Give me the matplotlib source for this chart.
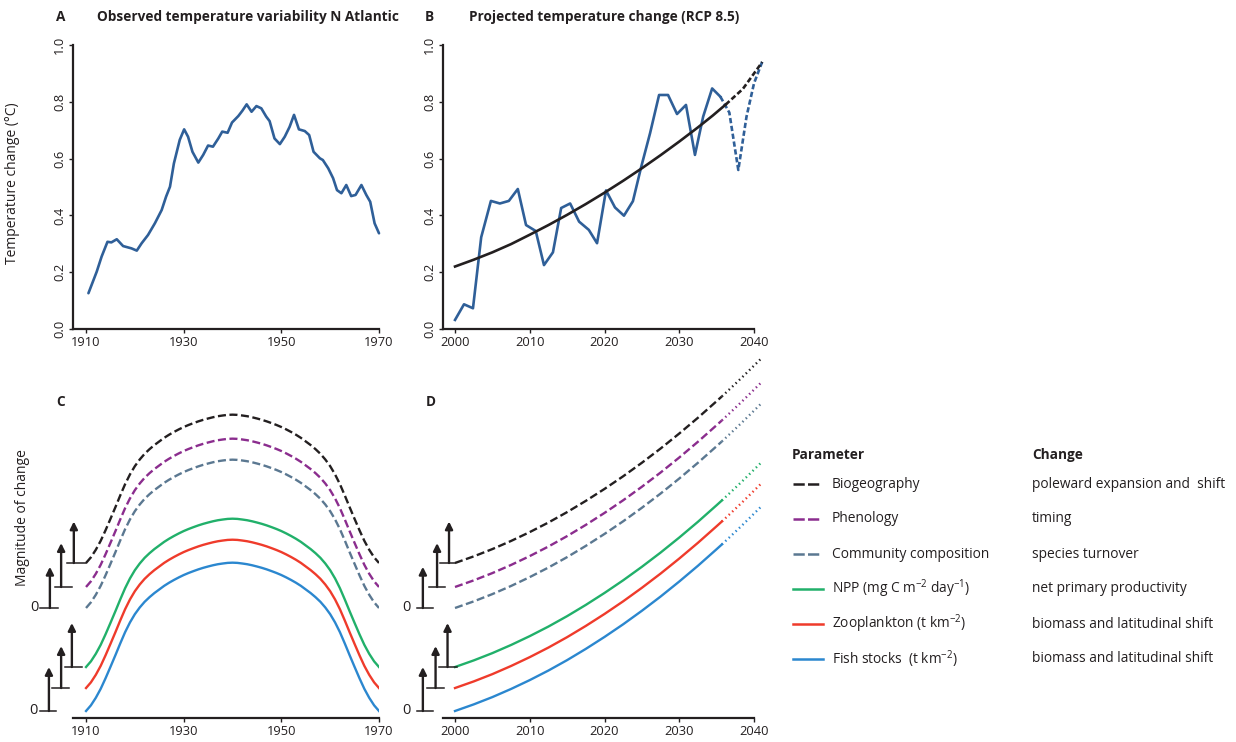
import matplotlib.pyplot as plt
from matplotlib.lines import Line2D

plt.rcParams['font.family'] = ['Open Sans', 'DejaVu Sans']
plt.rcParams['mathtext.fontset'] = 'custom'
plt.rcParams['mathtext.rm'] = 'Open Sans'

INK = '#231f20'
TBLUE = '#2f5f98'

# panel A: observed temperature variability
obs_years = [1910.5, 1912.2, 1913.2, 1914.4, 1915.2, 1916.3, 1917.6, 1919.3, 1920.4, 1921.4,
             1922.7, 1924.1, 1925.5, 1926.4, 1927.2, 1928.0, 1929.2, 1930.1, 1930.9, 1931.8,
             1933.0, 1934.0, 1935.0, 1936.0, 1937.1, 1937.9, 1939.0, 1939.9, 1941.2, 1942.0,
             1942.9, 1943.9, 1944.9, 1945.9, 1946.9, 1947.6, 1948.6, 1949.7, 1950.7, 1951.7,
             1952.6, 1953.6, 1954.8, 1955.7, 1956.6, 1957.9, 1958.5, 1959.6, 1960.6, 1961.4,
             1962.3, 1963.3, 1964.3, 1965.2, 1966.4, 1967.4, 1968.2, 1969.1, 1970.0]
obs_temp = [0.126, 0.202, 0.255, 0.307, 0.305, 0.316, 0.292, 0.284, 0.276, 0.302,
            0.331, 0.372, 0.419, 0.466, 0.501, 0.583, 0.666, 0.703, 0.677, 0.624,
            0.586, 0.613, 0.646, 0.642, 0.671, 0.695, 0.691, 0.727, 0.750, 0.768,
            0.791, 0.765, 0.785, 0.777, 0.748, 0.732, 0.671, 0.651, 0.677, 0.712,
            0.754, 0.703, 0.697, 0.683, 0.624, 0.601, 0.595, 0.566, 0.531, 0.489,
            0.478, 0.507, 0.468, 0.472, 0.507, 0.472, 0.448, 0.372, 0.337]

# panel B: projected temperature (RCP 8.5)
proj_years = [2000.0, 2001.2, 2002.4, 2003.5, 2004.8, 2006.0, 2007.2, 2008.4, 2009.5, 2010.8,
              2011.9, 2013.1, 2014.2, 2015.4, 2016.6, 2017.9, 2019.0, 2020.2, 2021.4, 2022.6,
              2023.8, 2024.9, 2026.1, 2027.3, 2028.5, 2029.7, 2030.9, 2032.1, 2033.2, 2034.4,
              2035.5]
proj_temp = [0.032, 0.087, 0.073, 0.323, 0.451, 0.442, 0.451, 0.493, 0.366, 0.345,
             0.225, 0.270, 0.426, 0.442, 0.378, 0.349, 0.302, 0.488, 0.428, 0.399,
             0.450, 0.570, 0.690, 0.824, 0.824, 0.757, 0.789, 0.613, 0.748, 0.847,
             0.818]
proj_years_ext = [2035.5, 2036.7, 2037.9, 2039.0, 2040.0, 2041.1]
proj_temp_ext = [0.818, 0.762, 0.560, 0.748, 0.865, 0.941]

trend_years = [2000, 2002.5, 2005, 2007.5, 2010, 2012.5, 2015, 2017.5, 2020, 2022.5,
               2025, 2027.5, 2030, 2032.5, 2034.5, 2036.2]
trend_temp = [0.22, 0.244, 0.27, 0.299, 0.332, 0.366, 0.402, 0.44, 0.48, 0.522,
              0.566, 0.612, 0.66, 0.71, 0.752, 0.79]
trend_years_ext = [2036.2, 2038.5, 2041.1]
trend_temp_ext = [0.79, 0.845, 0.94]

# panel C: response shape over the observed period (one value per year)
c_years = list(range(1910, 1971))
c_shape = [0.0, 0.055, 0.128, 0.215, 0.318, 0.428, 0.54, 0.655, 0.765, 0.86,
           0.94, 1.005, 1.06, 1.105, 1.145, 1.18, 1.215, 1.245, 1.272, 1.297,
           1.32, 1.34, 1.358, 1.375, 1.39, 1.403, 1.415, 1.425, 1.432, 1.438,
           1.44,
           1.438, 1.432, 1.425, 1.415, 1.403, 1.39, 1.375, 1.358, 1.34, 1.32,
           1.297, 1.272, 1.245, 1.215, 1.18, 1.145, 1.105, 1.06, 1.005, 0.94,
           0.86, 0.765, 0.655, 0.54, 0.428, 0.318, 0.215, 0.128, 0.055, 0.0]

# panel D: response shape over the projection period
d_years = [2000, 2002.5, 2005, 2007.5, 2010, 2012.5, 2015, 2017.5, 2020, 2022.5,
           2025, 2027.5, 2030, 2032.5, 2035, 2035.7]
d_shape = [0.0, 0.064, 0.135, 0.214, 0.30, 0.393, 0.494, 0.603, 0.719, 0.842,
           0.973, 1.111, 1.257, 1.41, 1.571, 1.617]
d_years_ext = [2035.7, 2037, 2038.5, 2040, 2041.1]
d_shape_ext = [1.617, 1.705, 1.809, 1.916, 1.995]

params = ['Biogeography', 'Phenology', 'Community composition',
          r'NPP (mg C m$^{\mathregular{-2}}$ day$^{\mathregular{-1}}$)',
          r'Zooplankton (t km$^{\mathregular{-2}}$)',
          r'Fish stocks  (t km$^{\mathregular{-2}}$)']
changes = ['poleward expansion and  shift', 'timing', 'species turnover',
           'net primary productivity', 'biomass and latitudinal shift',
           'biomass and latitudinal shift']
offsets = [1.437, 1.204, 1.0, 0.427, 0.223, 0.0]
colors = [INK, '#8b2d8e', '#5b7891', '#21b06a', '#ef3b2b', '#2b87cf']
dashed = [True, True, True, False, False, False]

W, H = 1236, 742
fig = plt.figure(figsize=(W / 100, H / 100), dpi=100)


def px_axes(x0, y0, x1, y1):
    return fig.add_axes([x0 / W, 1 - y1 / H, (x1 - x0) / W, (y1 - y0) / H])


def style_axes(ax):
    for s in ['top', 'right']:
        ax.spines[s].set_visible(False)
    for s in ['left', 'bottom']:
        ax.spines[s].set_linewidth(1.6)
        ax.spines[s].set_color(INK)
    ax.tick_params(direction='out', length=3, width=1, color=INK,
                   labelsize=9.3, labelcolor=INK, pad=2)


axA = px_axes(73, 45, 379, 329)
axB = px_axes(443, 45, 754, 329)
axC = px_axes(37.2, 381.4, 379, 718)
axD = px_axes(405, 381.4, 754, 718)

for ax in (axA, axB):
    style_axes(ax)
    ax.set_ylim(0, 1)
    ax.set_yticks([0, 0.2, 0.4, 0.6, 0.8, 1.0])
    ax.set_yticklabels(['0.0', '0.2', '0.4', '0.6', '0.8', '1.0'], rotation=90, va='center')

axA.set_xlim(1907.34, 1970)
axA.set_xticks([1910, 1930, 1950, 1970])
axA.plot(obs_years, obs_temp, color=TBLUE, lw=1.9, solid_joinstyle='round',
         solid_capstyle='round', clip_on=False)
axA.set_ylabel('Temperature change (°C)', fontsize=10, color=INK)
axA.yaxis.set_label_coords(-0.173, 0.514)

axB.set_xlim(1998.39, 2040)
axB.set_xticks([2000, 2010, 2020, 2030, 2040])
axB.plot(proj_years, proj_temp, color=TBLUE, lw=1.9, clip_on=False)
axB.plot(proj_years_ext, proj_temp_ext, color=TBLUE, lw=1.9, dashes=(2.0, 1.0), clip_on=False)
axB.plot(trend_years, trend_temp, color=INK, lw=1.9, clip_on=False)
axB.plot(trend_years_ext, trend_temp_ext, color=INK, lw=1.9, dashes=(2.0, 1.0), clip_on=False)

for ax in (axC, axD):
    style_axes(ax)
    ax.spines['left'].set_visible(False)
    ax.tick_params(axis='y', left=False, labelleft=False)
    ax.set_ylim(-0.068, 3.2)

axC.set_xlim(1900, 1970)
axC.spines['bottom'].set_bounds(1907.34, 1970)
axC.set_xticks([1910, 1930, 1950, 1970])
axD.set_xlim(1993.31, 2040)
axD.spines['bottom'].set_bounds(1998.39, 2040)
axD.set_xticks([2000, 2010, 2020, 2030, 2040])

dash_style = (3.4, 1.5)
dot_style = (0.6, 1.4)
for off, col, dsh in zip(offsets, colors, dashed):
    yc = [off + v for v in c_shape]
    yd = [off + v for v in d_shape]
    yd_ext = [off + v for v in d_shape_ext]
    if dsh:
        axC.plot(c_years, yc, color=col, lw=1.7, dashes=dash_style)
        axD.plot(d_years, yd, color=col, lw=1.7, dashes=dash_style)
    else:
        axC.plot(c_years, yc, color=col, lw=1.7)
        axD.plot(d_years, yd, color=col, lw=1.7)
    axD.plot(d_years_ext, yd_ext, color=col, lw=1.7, dashes=dot_style, clip_on=False)

axC.text(1896.9, 1.88, 'Magnitude of change', rotation=90, ha='center', va='center',
         fontsize=10, color=INK)


def arrows(ax, zero_x, bases, tops, xs, spans):
    for b, t, x, (x0, x1) in zip(bases, tops, xs, spans):
        ax.plot([x0, x1], [b, b], color=INK, lw=1.1, clip_on=False)
        ax.annotate('', xy=(x, t), xytext=(x, b), annotation_clip=False,
                    arrowprops=dict(arrowstyle='-|>', color=INK, lw=1.7,
                                    mutation_scale=11, shrinkA=0, shrinkB=0))
    ax.text(zero_x, bases[0], '0', ha='right', va='center', fontsize=10.5, color=INK)


arrows(axC, 1900.3, [1.0, 1.204, 1.437], [1.40, 1.63, 1.84],
       [1902.6, 1904.9, 1907.5], [(1900.6, 1904.3), (1903.7, 1907.1), (1906.1, 1910)])
arrows(axC, 1900.0, [0.0, 0.223, 0.427], [0.427, 0.63, 0.854],
       [1902.4, 1904.9, 1907.1], [(1900.6, 1903.9), (1903.0, 1906.5), (1905.7, 1909.2)])
arrows(axD, 1994.1, [1.0, 1.204, 1.437], [1.40, 1.63, 1.84],
       [1995.7, 1997.6, 1999.2], [(1994.9, 1997.1), (1996.5, 1998.7), (1998.0, 2000)])
arrows(axD, 1994.1, [0.0, 0.223, 0.427], [0.427, 0.63, 0.854],
       [1995.7, 1997.4, 1999.0], [(1994.9, 1997.0), (1996.3, 1998.5), (1997.8, 2000.3)])

# overlay in pixel coordinates for labels and legend
ov = fig.add_axes([0, 0, 1, 1])
ov.set_xlim(0, W)
ov.set_ylim(H, 0)
ov.axis('off')

bold = dict(fontsize=9.8, fontweight='bold', color=INK, va='center')
ov.text(56, 17, 'A', **bold)
ov.text(97, 17, 'Observed temperature variability N Atlantic', **bold)
ov.text(425, 17, 'B', **bold)
ov.text(469, 17, 'Projected temperature change (RCP 8.5)', **bold)
ov.text(56, 402, 'C', **bold)
ov.text(426, 402, 'D', **bold)

ov.text(792, 455, 'Parameter', **bold)
ov.text(1032, 455, 'Change', **bold)
row_y = [484, 519, 554, 589, 624, 659]
for y, name, chg, col, dsh in zip(row_y, params, changes, colors, dashed):
    if dsh:
        ov.add_line(Line2D([792.7, 820], [y, y], color=col, lw=1.8, dashes=(4.5, 1.3)))
    else:
        ov.add_line(Line2D([792.7, 823], [y, y], color=col, lw=1.8))
    ov.text(832, y, name, fontsize=9.9, color=INK, va='center')
    ov.text(1032, y, chg, fontsize=9.9, color=INK, va='center')

fig.savefig('out.png', dpi=100)
